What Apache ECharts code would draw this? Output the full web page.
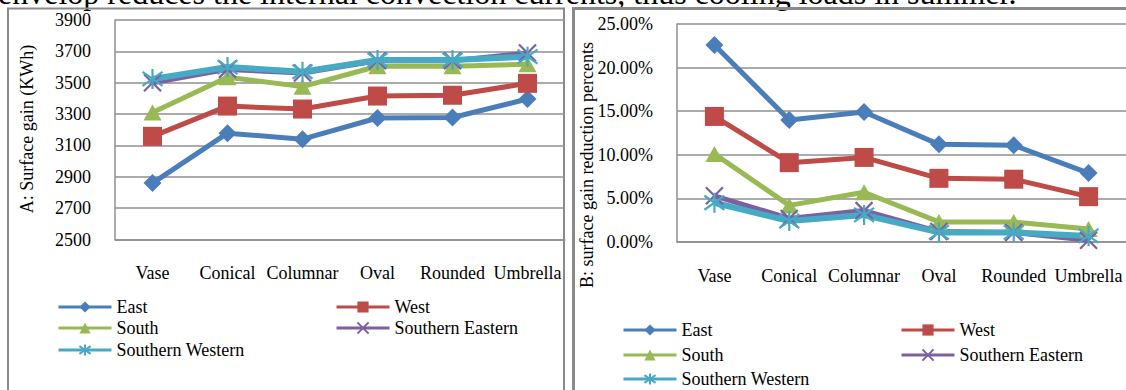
<!DOCTYPE html>
<html>
<head>
<meta charset="utf-8">
<script src="https://cdn.jsdelivr.net/npm/echarts@6/dist/echarts.min.js"></script>
<style>
html,body{margin:0;padding:0;background:#fff;}
#chart{width:1126px;height:390px;}
</style>
</head>
<body>
<div id="chart"></div>
<script>
// ---- data ----
const categories = ['Vase', 'Conical', 'Columnar', 'Oval', 'Rounded', 'Umbrella'];
const seriesNames = ['East', 'West', 'South', 'Southern Eastern', 'Southern Western'];

// Panel A: surface gain (KWh)
const gainEast  = [2860, 3178, 3140, 3275, 3278, 3396];
const gainWest  = [3158, 3351, 3332, 3415, 3420, 3496];
const gainSouth = [3310, 3535, 3475, 3605, 3605, 3618];
const gainSE    = [3500, 3585, 3562, 3640, 3640, 3690];
const gainSW    = [3524, 3600, 3570, 3645, 3645, 3666];
const gainAxis  = {min: 2500, max: 3900, interval: 200};

// Panel B: surface gain reduction percents (%)
const redEast  = [22.6, 14.0, 14.9, 11.2, 11.1, 7.9];
const redWest  = [14.4, 9.1, 9.7, 7.3, 7.2, 5.2];
const redSouth = [10.1, 4.2, 5.7, 2.3, 2.3, 1.5];
const redSE    = [5.3, 2.7, 3.6, 1.2, 1.1, 0.2];
const redSW    = [4.5, 2.4, 3.1, 1.1, 1.1, 0.7];
const redAxis  = {min: 0, max: 25, interval: 5};

const titleA = 'A: Surface gain (KWh)';
const titleB = 'B: surface gain reduction percents';
const topText = 'envelop reduces the internal convection currents, thus cooling loads in summer.';

// ---- styles ----
const FONT = '"Liberation Serif", "Times New Roman", serif';
const colors = ['#4A7EBB', '#BE4B48', '#98B954', '#7D60A0', '#46AAC5'];
const XPATH = 'path://M0,0L10,10M10,0L0,10';
const STARPATH = 'path://M0,1.5L10,8.5M10,1.5L0,8.5M5,0L5,10';
const symbols = ['diamond', 'rect', 'triangle', XPATH, STARPATH];
const symSizes = [[18, 18], [19, 19], [18, 16], [17, 17], [20, 20]];
const gridColor = '#8f8f8f';

function makeSeries(dataList, axisIdx) {
  return dataList.map((d, i) => ({
    name: seriesNames[i],
    type: 'line',
    xAxisIndex: axisIdx,
    yAxisIndex: axisIdx,
    data: d,
    symbol: symbols[i],
    symbolSize: symSizes[i],
    showAllSymbol: true,
    lineStyle: {color: colors[i], width: i === 4 ? 6 : 5},
    itemStyle: (i >= 3)
      ? {color: colors[i], borderColor: colors[i], borderWidth: 2.2}
      : {color: colors[i], borderWidth: 0},
    emphasis: {disabled: true}
  }));
}

function makeX(gridIndex, margin) {
  return {
    type: 'category', gridIndex: gridIndex, data: categories, boundaryGap: true,
    axisLine: {show: true, lineStyle: {color: gridColor, width: 1.5}},
    axisTick: {show: false},
    axisLabel: {color: '#000', fontFamily: FONT, fontSize: 18, margin: margin, interval: 0},
    splitLine: {show: false}
  };
}
function makeY(gridIndex, ax, fmt) {
  return {
    type: 'value', gridIndex: gridIndex, min: ax.min, max: ax.max, interval: ax.interval,
    axisLine: {show: true, lineStyle: {color: gridColor, width: 1.5}},
    axisTick: {show: false},
    axisLabel: {color: '#000', fontFamily: FONT, fontSize: 18, margin: 24, formatter: fmt},
    splitLine: {show: true, lineStyle: {color: gridColor, width: 1.5}}
  };
}

function legendItem(name, left, top) {
  return {
    data: [name], left: left, top: top, padding: 0,
    itemWidth: 53, itemHeight: 14, selectedMode: false,
    textStyle: {color: '#000', fontFamily: FONT, fontSize: 18},
    lineStyle: {width: 3}
  };
}

const legends = [];
const leftRows = [298, 319, 341];
const rightRows = [321, 346, 370];
seriesNames.forEach((n, i) => {
  const row = Math.floor(i / 2), col = i % 2;
  legends.push(legendItem(n, col === 0 ? 57 : 335, leftRows[row]));
  legends.push(legendItem(n, col === 0 ? 622 : 900, rightRows[row]));
});

const chart = echarts.init(document.getElementById('chart'), null, {renderer: 'svg'});
chart.setOption({
  animation: false,
  backgroundColor: '#fff',
  textStyle: {fontFamily: FONT},
  grid: [
    {left: 115, top: 20, width: 450, height: 219.5, containLabel: false},
    {left: 677, top: 24, width: 450, height: 218, containLabel: false}
  ],
  xAxis: [makeX(0, 24), makeX(1, 25)],
  yAxis: [
    makeY(0, gainAxis, v => String(v)),
    makeY(1, redAxis, v => v.toFixed(2) + '%')
  ],
  legend: legends,
  series: makeSeries([gainEast, gainWest, gainSouth, gainSE, gainSW], 0)
    .concat(makeSeries([redEast, redWest, redSouth, redSE, redSW], 1)),
  graphic: [
    {type: 'text', x: -2, y: -7, silent: true,
     style: {text: topText, font: '32px ' + FONT, fill: '#000', verticalAlign: 'middle', align: 'left'}},
    // panel borders
    {type: 'polyline', silent: true, shape: {points: [[8, 392], [8, 8.5], [564, 8.5], [564, 392]]},
     style: {stroke: '#8a8a8a', lineWidth: 2, fill: null}},
    {type: 'polyline', silent: true, shape: {points: [[573.5, 392], [573.5, 8.5], [1130, 8.5]]},
     style: {stroke: '#8a8a8a', lineWidth: 3, fill: null}},
    // y axis titles
    {type: 'text', x: 27, y: 129, rotation: Math.PI / 2, silent: true,
     style: {text: titleA, font: '18px ' + FONT, fill: '#000', align: 'center', verticalAlign: 'middle'}},
    {type: 'text', x: 587, y: 165, rotation: Math.PI / 2, silent: true,
     style: {text: titleB, font: '18px ' + FONT, fill: '#000', align: 'center', verticalAlign: 'middle'}}
  ]
});
</script>
</body>
</html>
